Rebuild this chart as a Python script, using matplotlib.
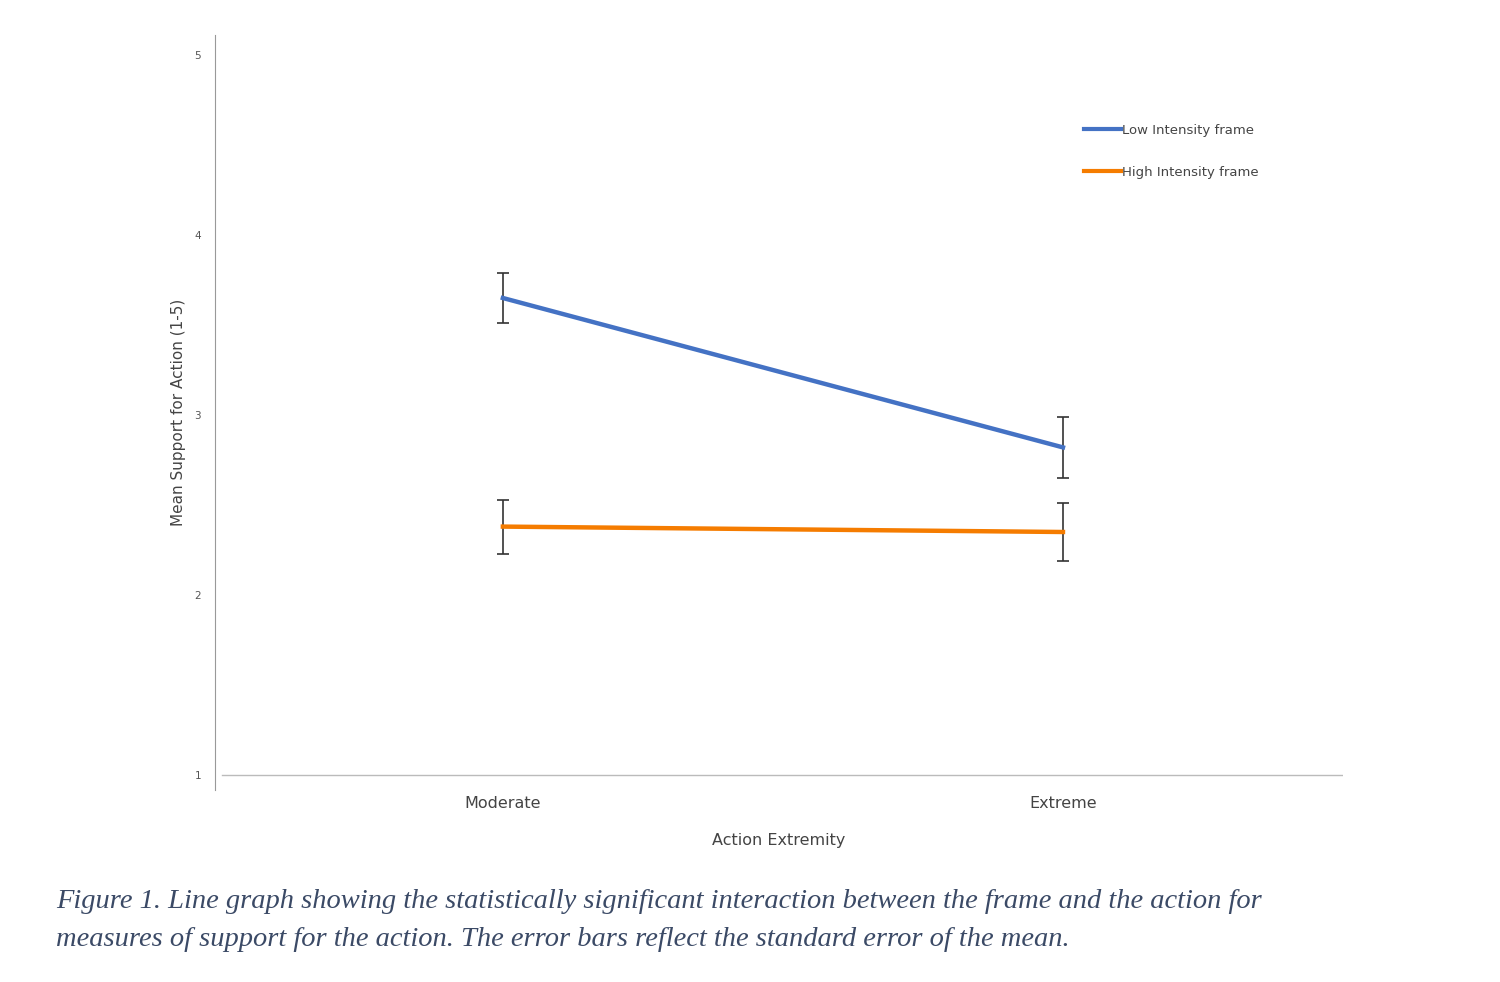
import matplotlib
matplotlib.use("Agg")
import matplotlib.pyplot as plt
from matplotlib.lines import Line2D

categories = ["Moderate", "Extreme"]
low_mean = [3.65, 2.82]
low_se = [0.14, 0.17]
high_mean = [2.38, 2.35]
high_se = [0.15, 0.16]
yticks = [1, 2, 3, 4, 5]

BLUE, ORANGE = "#4472C4", "#F57C00"
W, H = 1500, 982
fig = plt.figure(figsize=(W / 100, H / 100), dpi=100)
# axes spans x 215..1343 px, y 35..790 px
ax = fig.add_axes([215 / W, 1 - 790 / H, (1343 - 215) / W, (790 - 35) / H])

x = list(range(len(categories)))
ax.errorbar(x, low_mean, yerr=low_se, color=BLUE, lw=3.2, ecolor="#333333",
            elinewidth=1.2, capsize=4, capthick=1.2)
ax.errorbar(x, high_mean, yerr=high_se, color=ORANGE, lw=3.2, ecolor="#333333",
            elinewidth=1.2, capsize=4, capthick=1.2)

ax.set_xlim(-0.514, 1.5)
ax.set_ylim(1 - 15 / 180, 5 + 20 / 180)
ax.axhline(1, xmin=7 / 1128, xmax=1, color="#bbbbbb", lw=1)

for s in ["top", "right", "bottom"]:
    ax.spines[s].set_visible(False)
ax.spines["left"].set_color("#999999")
ax.set_yticks(yticks)
ax.tick_params(axis="y", length=0, labelsize=7.5, labelcolor="#555555", pad=10)
ax.set_xticks(x)
ax.set_xticklabels(categories)
ax.tick_params(axis="x", length=0, labelsize=11.5, labelcolor="#444444", pad=4)
ax.set_xlabel("Action Extremity", fontsize=11.5, color="#444444", labelpad=16)
ax.set_ylabel("Mean Support for Action (1-5)", fontsize=11, color="#444444", labelpad=6)

handles = [Line2D([], [], color=BLUE, lw=3), Line2D([], [], color=ORANGE, lw=3)]
ax.legend(handles, ["Low Intensity frame", "High Intensity frame"], loc="upper left",
          bbox_to_anchor=((1072 - 215) / 1128, (790 - 112) / 755),
          frameon=False, fontsize=9.5, handlelength=2.8, handletextpad=0.1,
          labelspacing=2.2, labelcolor="#444444")

cap_kw = dict(fontsize=20.5, family="Liberation Serif", style="italic", color="#3b4a66", va="center")
fig.text(56 / W, 1 - 902 / H, "Figure 1. Line graph showing the statistically significant interaction between the frame and the action for", **cap_kw)
fig.text(56 / W, 1 - 940 / H, "measures of support for the action. The error bars reflect the standard error of the mean.", **cap_kw)

fig.savefig("out.png", dpi=100)
